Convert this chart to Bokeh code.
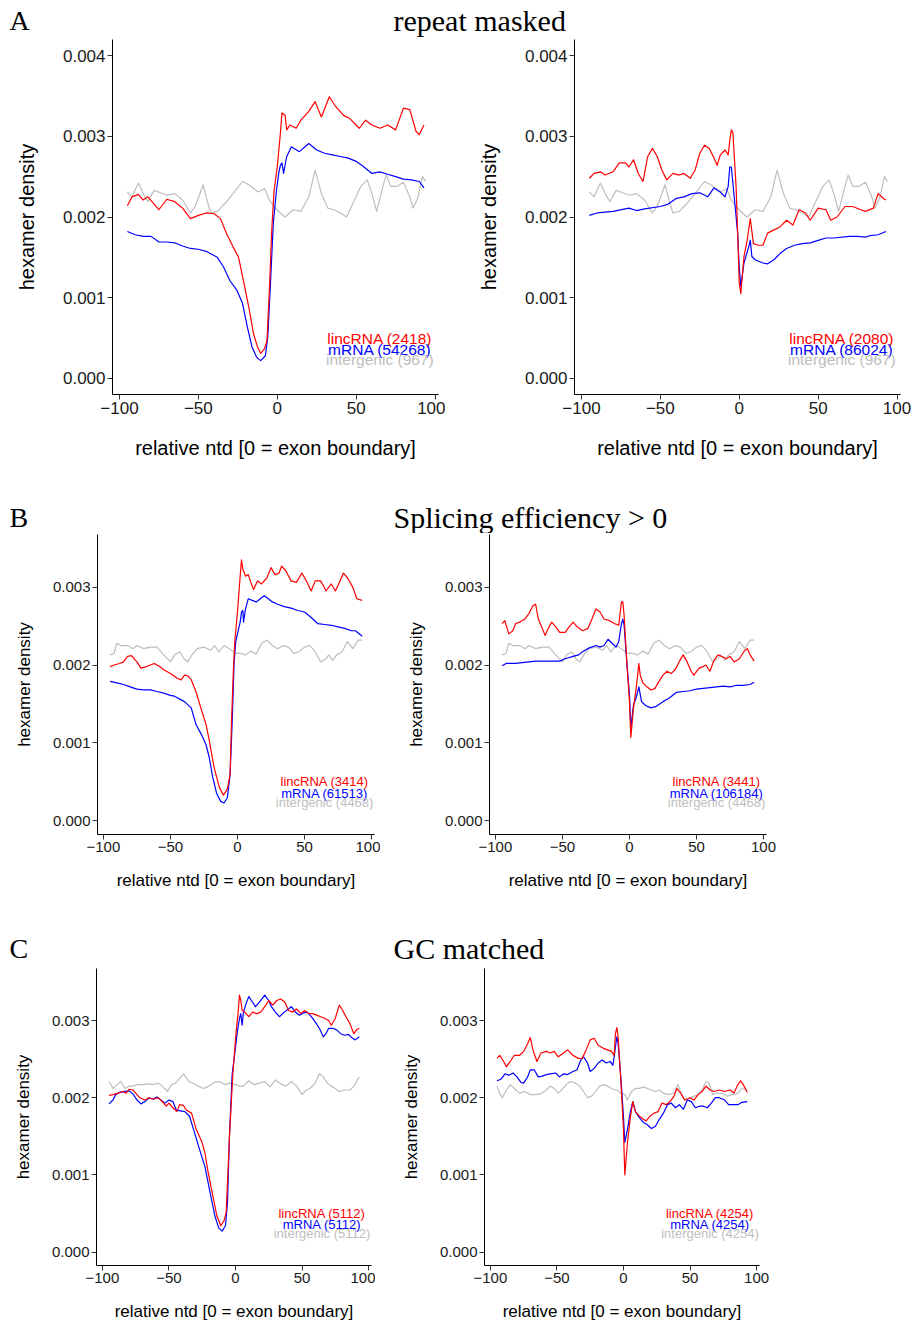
from bokeh.plotting import figure
from bokeh.layouts import column, row
from bokeh.models import Range1d, FixedTicker, CustomJSTickFormatter, PrintfTickFormatter, ColumnDataSource
from bokeh.core.properties import value
from bokeh.embed import file_html
from bokeh.resources import INLINE

# ---------------- data (hexamer density in units of 1e-3) ----------------
# Panel A (repeat masked), left
A1_linc_x = [-95,-92,-88,-85,-82,-78,-75,-70,-65,-60,-55,-50,-45,-40,-36,-32,-28,-24.5,-21,-18,-15,-12.5,-10.5,-8,-6.5,-5,-3.5,-2,0,2,3,5,6,8,12,15,20,24,28,33,37,42,46,52,56,60,65,70,75,80,84,88,90,93]
A1_linc_y = [2.14,2.25,2.28,2.21,2.25,2.16,2.09,2.22,2.19,2.11,1.98,2.02,2.05,2.04,1.98,1.79,1.63,1.50,1.17,0.88,0.55,0.39,0.31,0.37,0.47,1.09,1.83,2.33,2.62,3.04,3.29,3.26,3.08,3.14,3.10,3.20,3.31,3.43,3.24,3.49,3.37,3.26,3.22,3.10,3.20,3.14,3.10,3.14,3.08,3.35,3.33,3.06,3.02,3.14]
A1_mrna_x = [-95,-90,-85,-80,-75,-70,-65,-60,-55,-50,-44.5,-38,-34,-30,-25.5,-22,-19,-16,-13,-10.5,-7.5,-6,-4.5,-2.5,-0.5,1,2,3,4,6,9,14,20,25,30,35,40,45,50,55,60,65,70,75,80,85,90,93]
A1_mrna_y = [1.82,1.78,1.76,1.76,1.69,1.69,1.68,1.64,1.61,1.60,1.57,1.50,1.38,1.21,1.09,0.93,0.64,0.39,0.26,0.22,0.28,0.51,1.09,1.92,2.33,2.55,2.64,2.67,2.54,2.75,2.87,2.81,2.91,2.83,2.79,2.77,2.75,2.73,2.69,2.62,2.54,2.56,2.53,2.50,2.47,2.46,2.44,2.36]
A_inter_x = [-95,-92,-88,-85,-82,-78,-74,-70,-65,-60,-55,-52,-47,-44,-42,-38,-33,-28,-22,-18,-12,-8,-5,-2,2,5,10,15,20,24,28,32,36,40,44,48,53,57,60,63,67,69,72,76,80,84,86,89,92,94]
A_inter_y = [2.31,2.25,2.42,2.29,2.19,2.33,2.30,2.27,2.29,2.21,2.05,2.13,2.40,2.17,2.05,2.07,2.17,2.29,2.44,2.40,2.31,2.35,2.21,2.13,2.05,2.00,2.09,2.07,2.25,2.58,2.29,2.11,2.09,2.05,2.00,2.17,2.38,2.46,2.29,2.07,2.38,2.52,2.38,2.38,2.43,2.25,2.11,2.23,2.50,2.44]
# Panel A, right
A2_linc_x = [-95,-92,-88,-85,-80,-76,-72,-70,-67,-64,-61,-58,-55,-52,-49,-46,-42,-38,-35,-31,-28,-25,-22,-19,-16,-14,-12,-9,-7,-6,-5,-4,-2,-1,0,1,3,5,7,9,12,15,18,22,26,30,34,38,42,45,50,55,58,62,67,72,77,80,85,88,92,93]
A2_linc_y = [2.48,2.54,2.56,2.52,2.56,2.67,2.67,2.62,2.71,2.54,2.44,2.75,2.85,2.75,2.58,2.46,2.54,2.52,2.54,2.48,2.58,2.79,2.89,2.85,2.73,2.64,2.77,2.83,2.77,2.95,3.08,3.04,2.38,1.80,1.18,1.05,1.51,1.71,1.98,1.67,1.65,1.65,1.80,1.84,1.88,1.96,1.90,2.09,2.05,1.96,2.11,2.09,1.96,2.00,2.13,2.13,2.09,2.07,2.11,2.29,2.22,2.21]
A2_mrna_x = [-95,-90,-80,-70,-65,-60,-50,-45,-40,-35,-30,-25,-20,-16,-12,-9,-7,-6,-5,-3,-1,0,1,3,6,7,8,10,15,18,22,26,30,35,40,45,50,55,60,70,75,80,83,88,93]
A2_mrna_y = [2.02,2.05,2.07,2.11,2.08,2.10,2.13,2.16,2.23,2.25,2.29,2.30,2.25,2.36,2.31,2.25,2.38,2.62,2.62,2.21,1.80,1.38,1.14,1.43,1.63,1.71,1.51,1.47,1.43,1.42,1.47,1.55,1.61,1.65,1.67,1.68,1.71,1.74,1.74,1.76,1.76,1.75,1.77,1.78,1.82]

# Panel B (splicing efficiency > 0), left
B1_linc_x = [-95,-92,-88,-85,-82,-79,-75,-72,-68,-65,-62,-58,-55,-50,-45,-42,-39.5,-37,-34.5,-31,-27,-23.5,-21,-17.5,-13.5,-10.5,-7.5,-5.5,-4.5,-3,-2,0,2,3,4,6,8,10,12,15,18,22,25,28,31,33,36,40,44,48,52,55,58,62,64,66,70,73,76,79,82,86,89,93]
B1_linc_y = [1.98,2.00,2.02,2.04,2.11,2.12,2.04,1.96,1.98,2.00,2.02,1.98,1.94,1.89,1.83,1.81,1.87,1.86,1.81,1.66,1.43,1.24,1.03,0.69,0.43,0.33,0.41,0.60,1.24,1.96,2.30,2.68,3.14,3.35,3.23,3.14,3.16,3.06,2.97,3.08,3.04,3.12,3.25,3.16,3.18,3.27,3.21,3.08,3.06,3.18,3.06,2.95,3.08,3.08,3.02,2.95,3.04,2.95,3.06,3.18,3.12,3.00,2.85,2.83]
B1_mrna_x = [-95,-90,-85,-80,-75,-70,-65,-60,-55,-50,-47,-39.5,-34.5,-31,-27,-23.5,-21,-18.5,-15.5,-12.5,-10,-7.5,-5.5,-4,-2.5,-1.3,0,2,3,4,4.5,6,8,11,14,17,20,23,26,30,35,40,45,50,55,60,65,70,75,80,85,88,93]
B1_mrna_y = [1.79,1.77,1.75,1.72,1.69,1.68,1.68,1.66,1.64,1.61,1.60,1.53,1.45,1.24,1.11,0.98,0.81,0.56,0.35,0.25,0.23,0.30,0.60,1.24,2.04,2.30,2.40,2.55,2.68,2.70,2.55,2.72,2.85,2.83,2.81,2.85,2.89,2.85,2.81,2.78,2.75,2.73,2.70,2.68,2.61,2.53,2.52,2.51,2.49,2.47,2.44,2.44,2.37]
B_inter_x = [-95,-92,-90,-87,-82,-78,-75,-70,-65,-60,-55,-50,-47,-43,-40,-37,-34,-30,-25,-20,-17,-14,-10,-6,-2,2,6,10,14,18,22,26,30,34,38,42,46,50,54,58,62,66,68,71,74,78,82,86,90,93]
B_inter_y = [2.13,2.15,2.28,2.25,2.25,2.21,2.25,2.21,2.23,2.23,2.13,2.04,2.13,2.17,2.08,2.04,2.13,2.21,2.23,2.19,2.25,2.17,2.25,2.21,2.15,2.15,2.13,2.18,2.14,2.28,2.32,2.25,2.21,2.25,2.23,2.15,2.17,2.23,2.25,2.17,2.04,2.08,2.13,2.06,2.13,2.17,2.30,2.21,2.32,2.32]
# Panel B, right
B2_linc_x = [-95,-93,-90,-87,-85,-82,-78,-75,-72,-70,-68,-65,-63,-60,-58,-55,-52,-48,-45,-42,-39,-35,-31,-28,-25,-22,-19,-15,-11,-8,-6,-5,-4,-2,0,1,3,5,7,8,10,13,16,19,22,25,28,31,34,37,40,43,46,48,52,55,57,60,63,66,69,72,75,78,82,86,88,90,93]
B2_linc_y = [2.53,2.57,2.40,2.44,2.53,2.55,2.59,2.66,2.76,2.78,2.59,2.47,2.38,2.49,2.55,2.49,2.42,2.42,2.49,2.55,2.49,2.44,2.47,2.59,2.72,2.68,2.59,2.57,2.53,2.51,2.81,2.81,2.64,2.04,1.53,1.07,1.45,1.70,2.02,1.87,1.77,1.72,1.68,1.70,1.79,1.87,1.92,1.89,1.94,2.04,2.13,2.04,1.92,1.87,1.96,1.98,2.00,1.92,2.06,2.13,2.11,2.08,2.11,2.04,2.08,2.19,2.21,2.13,2.05]
B2_mrna_x = [-95,-92,-85,-80,-70,-60,-52,-48,-42,-38,-35,-30,-25,-22,-19,-16,-13,-10,-8,-6,-5,-4,-2,0,1,3,5,7,9,12,16,20,25,30,35,40,45,50,55,60,65,70,75,80,85,90,93]
B2_mrna_y = [1.99,2.02,2.02,2.03,2.05,2.05,2.05,2.08,2.11,2.13,2.17,2.22,2.25,2.23,2.25,2.33,2.28,2.23,2.30,2.53,2.59,2.51,2.04,1.62,1.19,1.49,1.58,1.72,1.53,1.48,1.45,1.47,1.53,1.58,1.65,1.66,1.67,1.69,1.70,1.71,1.72,1.73,1.72,1.74,1.74,1.75,1.78]

# Panel C (GC matched), left
C1_linc_x = [-95,-92,-88,-85,-82,-80,-77,-75,-72,-68,-65,-62,-58,-55,-52,-50,-47,-44,-42,-39,-37,-33,-29.5,-25.5,-23,-20.5,-17,-14,-11,-8.5,-7,-4.5,-2,0,1,2,3,4,5,7,10,13,16,19,22,25,28,31,34,37,40,43,46,49,52,55,58,61,64,67,70,72,75,78,80,83,86,89,91,93]
C1_linc_y = [2.03,2.04,2.06,2.08,2.06,2.11,2.10,2.06,2.00,1.97,2.00,1.98,2.00,1.95,1.89,1.93,1.87,1.82,1.91,1.90,1.84,1.80,1.59,1.44,1.29,1.03,0.73,0.47,0.34,0.41,0.51,1.50,2.30,2.75,2.95,3.10,3.33,3.26,3.13,3.11,3.05,3.11,3.09,3.11,3.18,3.26,3.20,3.26,3.28,3.24,3.13,3.11,3.15,3.09,3.13,3.09,3.09,3.07,3.05,3.03,3.00,2.94,3.03,3.20,3.15,3.05,2.96,2.83,2.88,2.90]
C1_mrna_x = [-95,-92,-90,-87,-84,-80,-77,-74,-71,-68,-65,-62,-59,-56,-53,-50,-47,-44.5,-38,-34.5,-31,-27,-23,-19.5,-15.5,-12.5,-10,-7.5,-6,-4.5,-2.5,0,1,2,3,4,5,6,8,10,12,15,18,22,25,27,30,33,36,39,42,45,48,51,54,57,60,63,66,68,70,73,76,79,82,85,88,90,93]
C1_mrna_y = [1.92,1.97,2.04,2.07,2.08,2.09,2.05,1.97,1.92,1.95,2.00,1.98,2.01,1.97,1.93,1.97,1.95,1.84,1.82,1.76,1.56,1.33,1.11,0.81,0.47,0.31,0.27,0.34,0.64,1.50,2.30,2.65,2.80,2.92,3.03,3.09,2.94,3.11,3.22,3.31,3.26,3.18,3.24,3.33,3.26,3.18,3.11,3.05,3.10,3.14,3.18,3.11,3.07,3.10,3.11,3.05,2.98,2.90,2.79,2.83,2.90,2.90,2.88,2.83,2.81,2.82,2.77,2.75,2.79]
C1_inter_x = [-95,-92,-89,-86,-83,-80,-77,-74,-70,-66,-62,-58,-55,-51,-48,-45,-42,-39,-35,-32,-28,-24,-20,-16,-12,-8,-4,0,3,6,10,14,18,22,26,30,34,38,42,46,50,53,56,60,63,66,69,72,75,78,82,86,89,93]
C1_inter_y = [2.21,2.12,2.17,2.21,2.12,2.15,2.15,2.17,2.17,2.18,2.17,2.19,2.15,2.08,2.17,2.19,2.25,2.31,2.21,2.19,2.15,2.12,2.15,2.20,2.21,2.17,2.19,2.17,2.15,2.15,2.22,2.17,2.19,2.21,2.14,2.23,2.18,2.15,2.21,2.15,2.04,2.10,2.12,2.19,2.31,2.27,2.19,2.15,2.12,2.08,2.10,2.10,2.15,2.27]
# Panel C, right
C2_linc_x = [-95,-93,-90,-88,-85,-82,-78,-75,-72,-70,-68,-65,-62,-58,-55,-52,-49,-45,-42,-38,-34,-31,-28,-25,-22,-19,-15,-12,-9,-7,-6,-5,-4,-2,0,1,3,5,7,9,12,15,17,20,23,26,29,32,35,38,40,43,46,50,53,56,59,62,65,68,72,76,80,83,86,88,90,93]
C2_linc_y = [2.51,2.55,2.47,2.40,2.47,2.55,2.55,2.60,2.70,2.78,2.62,2.47,2.58,2.60,2.58,2.60,2.53,2.58,2.62,2.55,2.51,2.51,2.62,2.75,2.77,2.68,2.64,2.62,2.60,2.55,2.83,2.91,2.79,2.23,1.59,1.00,1.42,1.72,1.95,1.82,1.76,1.72,1.70,1.76,1.80,1.82,1.93,1.91,1.95,2.02,2.12,2.06,1.97,2.00,1.97,2.04,2.08,2.15,2.10,2.08,2.10,2.08,2.10,2.06,2.17,2.22,2.17,2.07]
C2_mrna_x = [-95,-92,-89,-86,-83,-80,-77,-75,-72,-70,-67,-64,-61,-58,-55,-51,-48,-45,-42,-38,-35,-32,-30,-27,-25,-22,-19,-16,-13,-10,-8,-7,-5,-4,-2,0,1,3,5,7,9,12,15,18,21,24,27,30,33,36,39,42,45,48,51,54,57,60,63,66,69,72,76,79,83,86,89,93]
C2_mrna_y = [2.22,2.24,2.31,2.29,2.32,2.27,2.20,2.19,2.27,2.36,2.36,2.27,2.28,2.30,2.31,2.32,2.27,2.31,2.30,2.34,2.36,2.49,2.53,2.45,2.34,2.38,2.45,2.49,2.45,2.47,2.42,2.53,2.79,2.70,2.27,1.76,1.42,1.59,1.80,1.95,1.82,1.74,1.68,1.65,1.60,1.63,1.72,1.80,1.91,1.93,1.87,1.91,1.85,1.97,1.95,1.87,1.89,1.89,1.87,1.93,2.00,2.00,1.97,1.91,1.91,1.91,1.94,1.95]
C2_inter_x = [-95,-93,-91,-88,-85,-82,-78,-74,-70,-66,-62,-58,-55,-52,-49,-46,-43,-40,-36,-33,-30,-27,-24,-21,-18,-15,-12,-8,-5,-2,1,3,6,9,12,15,18,21,24,27,30,34,38,41,44,47,50,53,56,59,62,64,67,70,74,78,82,86,89,93]
C2_inter_y = [2.15,2.06,2.00,2.10,2.17,2.12,2.06,2.08,2.04,2.04,2.05,2.10,2.15,2.12,2.06,2.11,2.17,2.21,2.19,2.15,2.08,2.00,2.02,2.08,2.15,2.17,2.15,2.11,2.10,2.06,2.04,1.97,2.08,2.12,2.12,2.14,2.12,2.10,2.08,2.10,2.06,2.04,2.06,2.17,2.02,1.97,2.00,2.02,2.04,2.10,2.21,2.20,2.04,2.06,2.06,2.02,2.04,2.06,2.12,2.10]

# labels
A1_labels = ["lincRNA (2418)", "mRNA (54268)", "intergenic (967)"]
A2_labels = ["lincRNA (2080)", "mRNA (86024)", "intergenic (967)"]
B1_labels = ["lincRNA (3414)", "mRNA (61513)", "intergenic (4468)"]
B2_labels = ["lincRNA (3441)", "mRNA (106184)", "intergenic (4468)"]
C1_labels = ["lincRNA (5112)", "mRNA (5112)", "intergenic (5112)"]
C2_labels = ["lincRNA (4254)", "mRNA (4254)", "intergenic (4254)"]
label_y = [0.5, 0.357, 0.235]   # x 1e-3
label_x = 65

x_ticks = [-100, -50, 0, 50, 100]
yticks_A = [0.0, 0.001, 0.002, 0.003, 0.004]
yticks_BC = [0.0, 0.001, 0.002, 0.003]

RED, BLUE, GREY = "#FF0000", "#0000FF", "#BEBEBE"
SANS, SERIF = "Liberation Sans", "Liberation Serif"
SCALE = 1e-3


def panel(series, labels, ylim, yticks, width, height, bl, br, bt, bb,
          tick_fs, lab_fs, leg_fs, ylab_standoff, xlab_standoff):
    p = figure(width=width, height=height, output_backend="svg", toolbar_location=None,
               title=None,
               x_range=Range1d(-104.4, 102.2), y_range=Range1d(*ylim),
               min_border_left=bl, min_border_right=br, min_border_top=bt, min_border_bottom=bb)
    p.xgrid.visible = False
    p.ygrid.visible = False
    p.outline_line_color = None
    for xs, ys, col in series:
        p.line([float(v) for v in xs], [v * SCALE for v in ys], line_color=col, line_width=1.2,
               line_join="round")
    src = ColumnDataSource(dict(x=[label_x] * 3, y=[v * SCALE for v in label_y], t=labels,
                                c=[RED, BLUE, GREY]))
    p.text(x="x", y="y", text="t", text_color="c", source=src, text_align="center",
           text_baseline="middle", text_font=value(SANS), text_font_size=f"{leg_fs}px")
    p.xaxis.ticker = FixedTicker(ticks=x_ticks)
    p.xaxis.formatter = CustomJSTickFormatter(
        code="return tick < 0 ? '\u2212' + Math.abs(tick) : String(tick);")
    p.yaxis.ticker = FixedTicker(ticks=yticks)
    p.yaxis.formatter = PrintfTickFormatter(format="%.3f")
    p.xaxis.axis_label = "relative ntd [0 = exon boundary]"
    p.yaxis.axis_label = "hexamer density"
    for ax in (p.xaxis[0], p.yaxis[0]):
        ax.axis_line_color = "black"
        ax.axis_line_width = 1
        ax.major_tick_line_color = "#333333"
        ax.major_tick_out = 5
        ax.major_tick_in = 0
        ax.minor_tick_line_color = None
        ax.major_label_standoff = 2
        ax.major_label_text_font = SANS
        ax.major_label_text_font_size = f"{tick_fs}px"
        ax.major_label_text_color = "#1a1a1a"
        ax.axis_label_text_font = SANS
        ax.axis_label_text_font_size = f"{lab_fs}px"
        ax.axis_label_text_font_style = "normal"
        ax.axis_label_text_color = "black"
    p.yaxis[0].axis_label_standoff = ylab_standoff
    p.xaxis[0].axis_label_standoff = xlab_standoff
    return p


def heading(height, letter, title, mid):
    h = figure(width=913, height=height, output_backend="svg", toolbar_location=None,
               title=None,
               x_range=Range1d(0, 913), y_range=Range1d(height, 0),
               x_axis_type=None, y_axis_type=None,
               min_border_left=0, min_border_right=0, min_border_top=0, min_border_bottom=0)
    h.grid.visible = False
    h.outline_line_color = None
    h.text(x=[9], y=[mid], text=[letter], text_font=value(SERIF), text_font_size="28px",
           text_baseline="middle", text_color="black")
    h.text(x=[393], y=[mid], text=[title], text_font=value(SERIF), text_font_size="30px",
           text_baseline="middle", text_color="black")
    return h


ylimA = (-0.0002, 0.0042)
ylimBC = (-0.000175, 0.003675)

hA = heading(38, "A", "repeat masked", 20)
pA1 = panel([(A_inter_x, A_inter_y, GREY), (A1_mrna_x, A1_mrna_y, BLUE), (A1_linc_x, A1_linc_y, RED)],
            A1_labels, ylimA, yticks_A, 445, 432, 112, 7, 1, 76, 17, 20, 15.5, 22, 20)
pA2 = panel([(A_inter_x, A_inter_y, GREY), (A2_mrna_x, A2_mrna_y, BLUE), (A2_linc_x, A2_linc_y, RED)],
            A2_labels, ylimA, yticks_A, 468, 432, 129, 13, 1, 76, 17, 20, 15.5, 22, 20)

hB = heading(63, "B", "Splicing efficiency  > 0", 47)
pB1 = panel([(B_inter_x, B_inter_y, GREY), (B1_mrna_x, B1_mrna_y, BLUE), (B1_linc_x, B1_linc_y, RED)],
            B1_labels, ylimBC, yticks_BC, 380, 362, 97, 6, 1, 61, 15, 17, 13, 16, 16)
pB2 = panel([(B_inter_x, B_inter_y, GREY), (B2_mrna_x, B2_mrna_y, BLUE), (B2_linc_x, B2_linc_y, RED)],
            B2_labels, ylimBC, yticks_BC, 533, 362, 109, 147, 1, 61, 15, 17, 13, 16, 16)

hC = heading(72, "C", "GC matched", 53)
pC1 = panel([(C1_inter_x, C1_inter_y, GREY), (C1_mrna_x, C1_mrna_y, BLUE), (C1_linc_x, C1_linc_y, RED)],
            C1_labels, ylimBC, yticks_BC, 375, 356, 96, 4, 1, 56, 15, 17, 13, 16, 16)
pC2 = panel([(C2_inter_x, C2_inter_y, GREY), (C2_mrna_x, C2_mrna_y, BLUE), (C2_linc_x, C2_linc_y, RED)],
            C2_labels, ylimBC, yticks_BC, 538, 356, 109, 154, 1, 56, 15, 17, 13, 16, 16)

layout = column(hA, row(pA1, pA2, spacing=0), hB, row(pB1, pB2, spacing=0),
                hC, row(pC1, pC2, spacing=0), spacing=0)

open("out.html", "w").write(file_html(layout, INLINE))
